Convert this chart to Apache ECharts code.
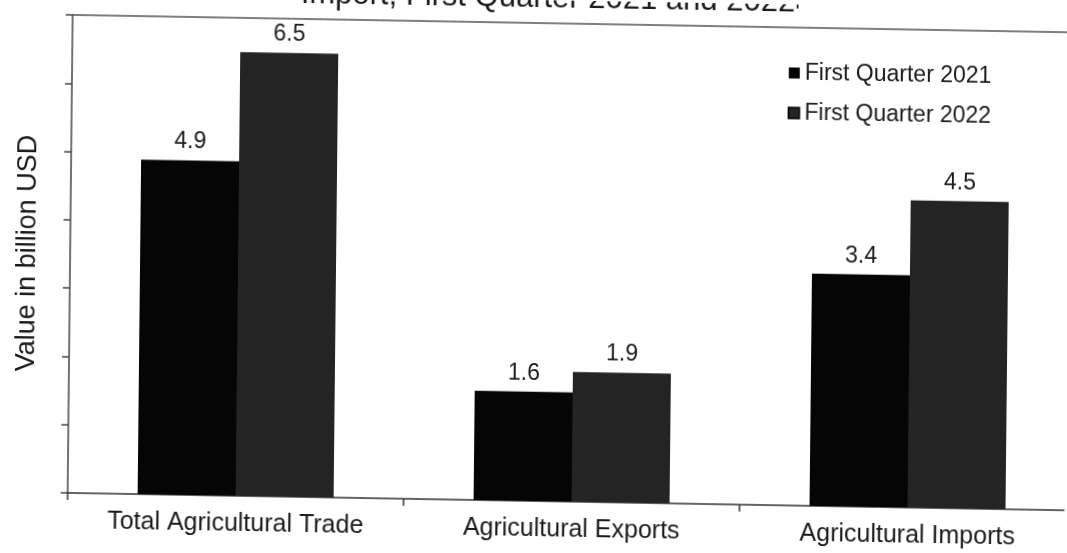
<!DOCTYPE html>
<html>
<head>
<meta charset="utf-8">
<script src="https://cdn.jsdelivr.net/npm/echarts@6/dist/echarts.min.js"></script>
<style>
  html, body { margin: 0; padding: 0; background: #fff; overflow: hidden; }
  /* slight tilt of the whole figure, as on the printed page */
  #chart { width: 1067px; height: 553px; transform: matrix(1, 0.01745, -0.01047, 1, 0, 0); transform-origin: 50% 50%; }
</style>
</head>
<body>
<div id="chart"></div>
<script>
// Agricultural trade values, billion USD
const categories = ['Total Agricultural Trade', 'Agricultural Exports', 'Agricultural Imports'];
const q1_2021 = [4.9, 1.6, 3.4];
const q1_2022 = [6.5, 1.9, 4.5];
const seriesNames = ['First Quarter 2021', 'First Quarter 2022'];
const titleText = 'Import, First Quarter 2021 and 2022\u1D56';
const yAxisName = 'Value in billion USD';

const FONT = '"Liberation Sans", Arial, sans-serif';
const INK = '#1a1a1a';

const chart = echarts.init(document.getElementById('chart'), null, { renderer: 'canvas' });

const barLabel = {
  show: true,
  position: 'top',
  distance: 7,
  fontFamily: FONT,
  fontSize: 23,
  color: INK,
  formatter: p => p.value.toFixed(1)
};

chart.setOption({
  backgroundColor: '#fff',
  animation: false,
  title: {
    text: titleText,
    left: 546,
    textAlign: 'center',
    top: -22,
    textStyle: { fontFamily: FONT, fontSize: 31, fontWeight: 'normal', color: INK }
  },
  legend: {
    orient: 'vertical',
    left: 781,
    top: 52,
    itemWidth: 11,
    itemHeight: 11,
    itemGap: 17,
    textStyle: { fontFamily: FONT, fontSize: 23, color: INK },
    data: [
      { name: seriesNames[0], icon: 'rect' },
      { name: seriesNames[1], icon: 'rect', itemStyle: { borderColor: '#000', borderWidth: 1.5 } }
    ]
  },
  grid: { left: 70, top: 23, width: 1008, height: 478, containLabel: false, outerBoundsMode: 'none' },
  xAxis: [
    {
      type: 'category',
      data: categories,
      position: 'bottom',
      axisLine: { show: true, lineStyle: { color: '#333', width: 1.5 } },
      axisTick: { show: true, length: 7, lineStyle: { color: '#333', width: 1.5 } },
      axisLabel: { fontFamily: FONT, fontSize: 25, color: INK, margin: 16 }
    },
    {
      type: 'category',
      data: categories,
      position: 'top',
      axisLine: { show: true, lineStyle: { color: '#555', width: 1.5 } },
      axisTick: { show: false },
      axisLabel: { show: false }
    }
  ],
  yAxis: {
    type: 'value',
    min: 0,
    max: 7,
    interval: 1,
    name: yAxisName,
    nameLocation: 'middle',
    nameGap: 29,
    nameTextStyle: { fontFamily: FONT, fontSize: 27, color: INK },
    axisLine: { show: true, lineStyle: { color: '#444', width: 1.5 } },
    axisTick: { show: true, length: 7, lineStyle: { color: '#444', width: 1.5 } },
    axisLabel: { show: false },
    splitLine: { show: false }
  },
  series: [
    {
      name: seriesNames[0],
      type: 'bar',
      xAxisIndex: 0,
      data: q1_2021,
      barWidth: 98,
      barGap: '0%',
      itemStyle: { color: '#050505' },
      label: barLabel
    },
    {
      name: seriesNames[1],
      type: 'bar',
      xAxisIndex: 0,
      data: q1_2022,
      barWidth: 98,
      barGap: '0%',
      itemStyle: { color: '#242424' },
      label: barLabel
    }
  ]
});
</script>
</body>
</html>
